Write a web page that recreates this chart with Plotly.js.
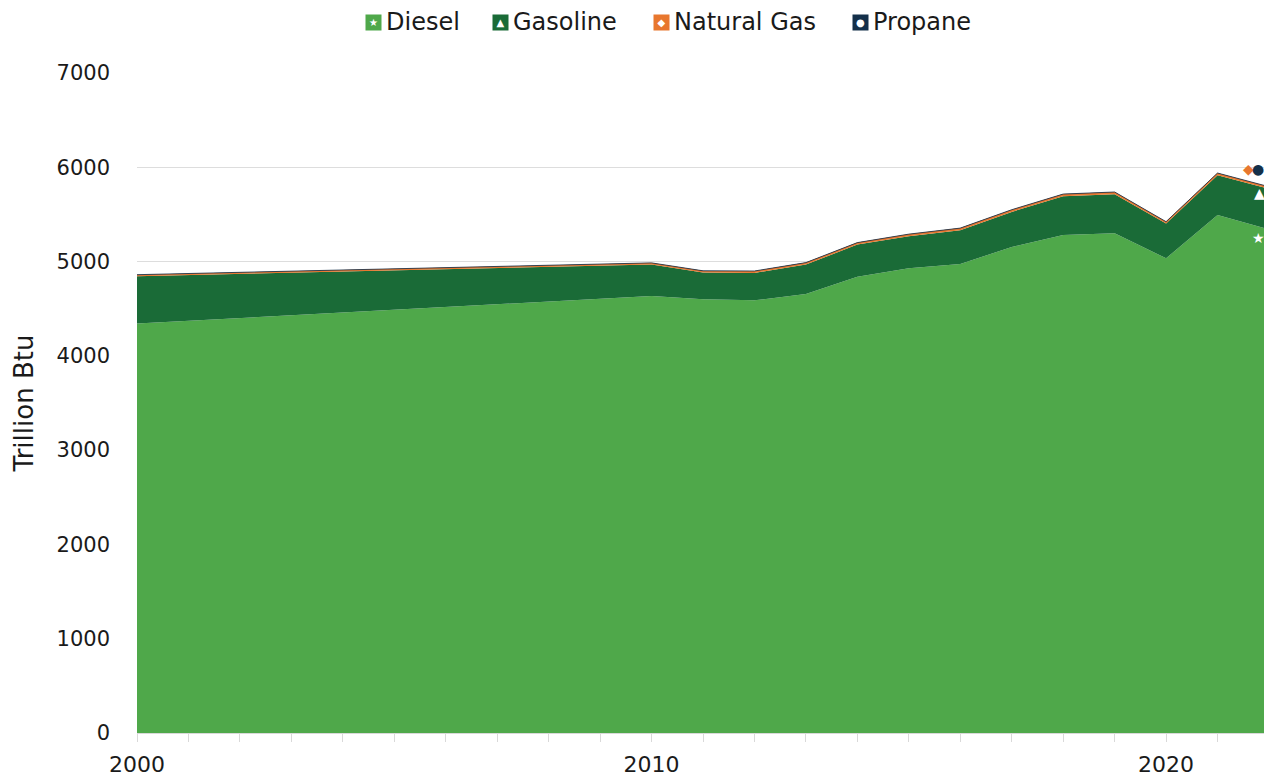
<!DOCTYPE html>
<html>
<head>
<meta charset="utf-8">
<script src="https://cdn.plot.ly/plotly-3.0.1.min.js"></script>
<style>
html,body{margin:0;padding:0;overflow:hidden;background:#fff;}
#chart{width:1290px;height:780px;}
</style>
</head>
<body>
<div id="chart"></div>
<script>
const years = [2000, 2010, 2011, 2012, 2013, 2014, 2015, 2016, 2017, 2018, 2019, 2020, 2021, 2022];
const diesel = [4343, 4635, 4600, 4589, 4656, 4840, 4929, 4974, 5155, 5282, 5300, 5035, 5494, 5341];
const gasoline = [502, 333, 283, 291, 312, 340, 340, 359, 372, 411, 415, 368, 422, 430];
const naturalGas = [10, 12, 13, 14, 15, 15, 16, 16, 17, 17, 17, 15, 17, 17];
const propane = [6, 6, 6, 6, 6, 6, 6, 6, 6, 6, 6, 5, 6, 6];
const seriesNames = ['Diesel', 'Gasoline', 'Natural Gas', 'Propane'];
const xTicks = [2000, 2010, 2020];
const yTicks = [0, 1000, 2000, 3000, 4000, 5000, 6000, 7000];

const FONT = 'DejaVu Sans, sans-serif';
const colors = ['#4fa84a', '#1a6b37', '#e8772e', '#14304a'];
const glyphs = ['★', '▲', '◆', '●'];
const endGlyphColors = ['#ffffff', '#ffffff', '#e8772e', '#14304a'];
const endShift = [[-11, -9], [-10, -4], [-21, 18], [-11, 18]];
const lineWidths = [0, 0, 1.2, 0.8];
const values = [diesel, gasoline, naturalGas, propane];

const traces = values.map((v, k) => ({
  type: 'scatter',
  x: years,
  y: v,
  name: seriesNames[k],
  stackgroup: 'one',
  mode: 'lines',
  fillcolor: colors[k],
  line: {color: colors[k], width: lineWidths[k]},
  showlegend: false,
  hoverinfo: 'x+y+name'
}));

// plot area: 137px .. 1269px (width 1290, margins l=137 r=21)
const plotLeft = 137, plotWidth = 1132;
const legendIconPx = [373, 500, 661, 860];
const toPaper = px => (px - plotLeft) / plotWidth;
const annotations = [];
seriesNames.forEach((n, k) => {
  annotations.push({
    xref: 'paper', yref: 'paper', x: toPaper(legendIconPx[k]), y: 1, yshift: 51,
    xanchor: 'center', yanchor: 'middle', showarrow: false,
    text: glyphs[k], bgcolor: colors[k], width: 15, height: 15, borderpad: 0,
    font: {family: 'DejaVu Sans', size: 10, color: '#ffffff'}
  });
  annotations.push({
    xref: 'paper', yref: 'paper', x: toPaper(legendIconPx[k] + 11), y: 1, yshift: 51,
    xanchor: 'left', yanchor: 'middle', showarrow: false,
    text: n, font: {family: FONT, size: 24, color: '#1a1a1a'}
  });
});

// end-of-series symbols, placed at the last stacked value of each series
const last = years.length - 1;
let cum = 0;
values.forEach((v, k) => {
  cum += v[last];
  annotations.push({
    xref: 'x', yref: 'y', x: years[last], y: cum,
    xshift: endShift[k][0], yshift: endShift[k][1],
    xanchor: 'center', yanchor: 'middle', showarrow: false,
    text: glyphs[k], font: {family: 'DejaVu Sans', size: 14, color: endGlyphColors[k]}
  });
});

const layout = {
  width: 1290, height: 780,
  margin: {l: 137, r: 21, t: 73, b: 47},
  paper_bgcolor: '#ffffff', plot_bgcolor: '#ffffff',
  font: {family: FONT, size: 22, color: '#1a1a1a'},
  showlegend: false,
  xaxis: {
    range: [2000, 2022],
    tickvals: xTicks,
    ticktext: xTicks.map(String),
    ticks: 'outside', ticklen: 8, tickcolor: '#d9d9d9', tickwidth: 1,
    minor: {dtick: 1, tick0: 2000, ticks: 'outside', ticklen: 8, tickcolor: '#d9d9d9', showgrid: false},
    showgrid: false, zeroline: false,
    showline: true, linecolor: '#d9d9d9', linewidth: 1,
    ticklabelstandoff: 4,
    tickfont: {family: FONT, size: 22, color: '#1a1a1a'}
  },
  yaxis: {
    range: [0, 7000],
    tickvals: yTicks,
    ticktext: yTicks.map(String),
    showgrid: true, gridcolor: '#dddddd', gridwidth: 1.5,
    zeroline: false, showline: false, ticks: '',
    ticklabelstandoff: 26,
    tickfont: {family: FONT, size: 21, color: '#1a1a1a'},
    title: {text: 'Trillion Btu', standoff: 15, font: {family: FONT, size: 26, color: '#1a1a1a'}}
  },
  annotations: annotations
};

Plotly.newPlot('chart', traces, layout, {displayModeBar: false, staticPlot: true});
</script>
</body>
</html>
